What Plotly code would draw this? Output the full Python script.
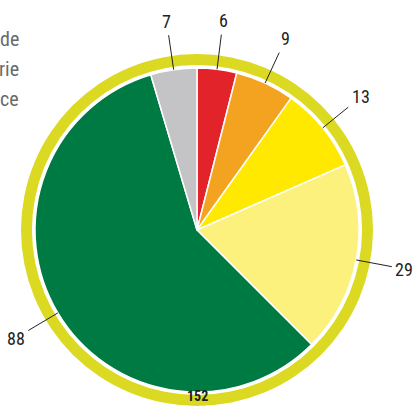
import math
import plotly.graph_objects as go

categories = ["Rouge", "Orange", "Jaune", "Jaune clair", "Vert", "Gris"]
values = [6, 9, 13, 29, 88, 7]
colors = ["#e3232a", "#f4a320", "#ffe900", "#fcf17c", "#007a43", "#c4c4c6"]
total_label = "152"
side_text = ["de", "rie", "ce"]

W, H = 414, 406
cx, cy = 197, 230          # pie centre in px (from top-left)
r_pie = 162
r_ring_out = 176
r_ring_in = 165

def dom(r):
    return dict(x=[(cx - r) / W, (cx + r) / W],
                y=[(H - cy - r) / H, (H - cy + r) / H])

fig = go.Figure()
# outer ring
fig.add_trace(go.Pie(values=[sum(values)], labels=["Total"], hole=r_ring_in / r_ring_out,
                     marker=dict(colors=["#dcd922"], line=dict(width=0)),
                     textinfo="none", hoverinfo="skip", sort=False, domain=dom(r_ring_out),
                     showlegend=False))
# main pie
fig.add_trace(go.Pie(values=values, labels=categories, sort=False, direction="clockwise",
                     rotation=0, marker=dict(colors=colors, line=dict(color="white", width=1.5)),
                     textinfo="none", domain=dom(r_pie), showlegend=False))

font = "Liberation Sans Narrow, Roboto Condensed, Arial Narrow, sans-serif"
annotations = []
tot = sum(values)
cum = 0
for v in values:
    mid = (cum + v / 2) / tot * 2 * math.pi
    cum += v
    px = cx + r_pie * math.sin(mid)
    py = cy - r_pie * math.cos(mid)
    r_txt = 211
    tx = cx + r_txt * math.sin(mid)
    ty = cy - r_txt * math.cos(mid)
    annotations.append(dict(x=px / W, y=(H - py) / H, xref="paper", yref="paper",
                            ax=tx - px, ay=ty - py, axref="pixel", ayref="pixel",
                            text=str(v), showarrow=True, arrowhead=0, arrowwidth=1,
                            arrowcolor="#222", standoff=0, startstandoff=0, borderpad=3,
                            font=dict(family=font, size=18, color="#222")))

for i, t in enumerate(side_text):
    annotations.append(dict(x=20 / W, y=(H - (39 + 30 * i)) / H, xref="paper", yref="paper",
                            text=t, showarrow=False, xanchor="right", yanchor="middle",
                            borderpad=0,
                            font=dict(family=font, size=20, color="#6a6a6a")))

annotations.append(dict(x=cx / W, y=(H - 405) / H, xref="paper", yref="paper",
                        text="<b>" + total_label + "</b>", showarrow=False,
                        xanchor="center", yanchor="bottom", borderpad=0,
                        font=dict(family=font, size=14, color="#222")))

fig.update_layout(width=W, height=H, margin=dict(l=0, r=0, t=0, b=0),
                  paper_bgcolor="white", plot_bgcolor="white",
                  annotations=annotations)

fig.write_html("out.html", config={"displayModeBar": False},
               post_script="document.body.style.margin='0px';document.body.style.overflow='hidden';")
